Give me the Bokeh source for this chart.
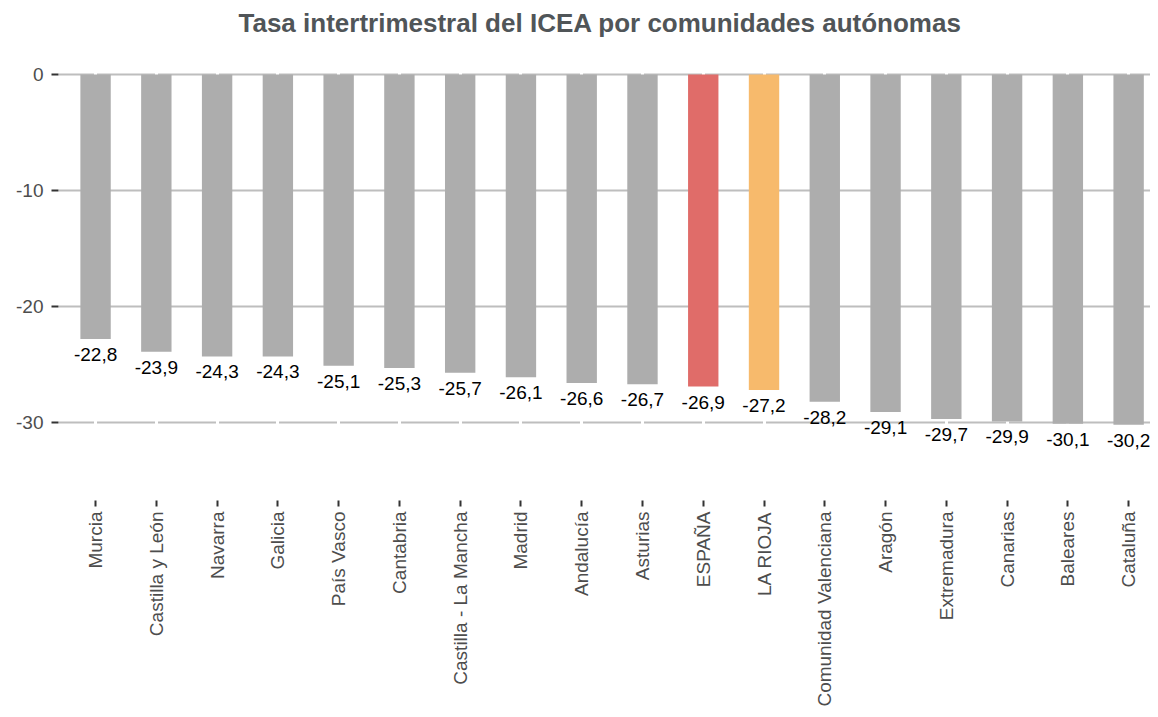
import math
from bokeh.plotting import figure
from bokeh.models import Range1d, FixedTicker, ColumnDataSource, Title
from bokeh.embed import file_html
from bokeh.resources import INLINE

# ---- data ----
categories = ["Murcia", "Castilla y León", "Navarra", "Galicia", "País Vasco",
              "Cantabria", "Castilla - La Mancha", "Madrid", "Andalucía", "Asturias",
              "ESPAÑA", "LA RIOJA", "Comunidad Valenciana", "Aragón", "Extremadura",
              "Canarias", "Baleares", "Cataluña"]
values = [-22.8, -23.9, -24.3, -24.3, -25.1, -25.3, -25.7, -26.1, -26.6, -26.7,
          -26.9, -27.2, -28.2, -29.1, -29.7, -29.9, -30.1, -30.2]
y_ticks = [0, -10, -20, -30]
y_tick_labels = ["0", "-10", "-20", "-30"]
highlight = {"ESPAÑA": "#E06C69", "LA RIOJA": "#F7BA6C"}
base_color = "#ADADAD"

FONT = "Liberation Sans"

idx = list(range(len(categories)))
colors = [highlight.get(c, base_color) for c in categories]
labels = [f"{v:.1f}".replace(".", ",") for v in values]
zeros = [0] * len(values)

src = ColumnDataSource(dict(x=idx, top=zeros, bottom=values, color=colors,
                            label=labels, cat=categories))

p = figure(width=1150, height=709, output_backend="svg", toolbar_location=None,
           x_range=Range1d(-0.61, 17.36), y_range=Range1d(-36.72, 2.5),
           min_border_left=58, min_border_right=0, min_border_bottom=0,
           min_border_top=45)
p.outline_line_color = None
p.background_fill_color = "white"

p.title = Title(text="Tasa intertrimestral del ICEA por comunidades autónomas",
                align="left", vertical_align="middle", text_font=FONT,
                text_font_size="26px", text_font_style="bold",
                text_color="#505558", offset=180, standoff=13)

p.vbar(x="x", top="top", bottom="bottom", width=0.5, color="color", source=src,
       line_color=None)
p.text(x="x", y="bottom", text="label", source=src, text_align="center",
       text_baseline="top", y_offset=9, text_font_size="19px",
       text_color="black", text_font={"value": FONT})

# axes
p.xaxis.ticker = FixedTicker(ticks=idx)
p.xaxis.major_label_overrides = {i: c for i, c in zip(idx, categories)}
p.xaxis.major_label_orientation = math.pi / 2
p.xaxis.axis_line_color = None
p.xaxis.major_tick_in = 0
p.xaxis.major_tick_out = 6
p.xaxis.major_tick_line_color = "#333333"
p.xaxis.major_tick_line_width = 2
p.xaxis.minor_tick_line_color = None
p.xaxis.major_label_standoff = 5
p.xaxis.major_label_text_font = FONT
p.xaxis.major_label_text_font_size = "19px"
p.xaxis.major_label_text_color = "#4D4D4D"

p.yaxis.ticker = FixedTicker(ticks=y_ticks)
p.yaxis.major_label_overrides = {t: s for t, s in zip(y_ticks, y_tick_labels)}
p.yaxis.axis_line_color = None
p.yaxis.major_tick_in = 0
p.yaxis.major_tick_out = 7
p.yaxis.major_tick_line_color = "#333333"
p.yaxis.major_tick_line_width = 2
p.yaxis.minor_tick_line_color = None
p.yaxis.major_label_standoff = 8
p.yaxis.major_label_text_font = FONT
p.yaxis.major_label_text_font_size = "19px"
p.yaxis.major_label_text_color = "#4D4D4D"

# grids
p.ygrid.ticker = FixedTicker(ticks=y_ticks)
p.ygrid.grid_line_color = "#BEBEBE"
p.ygrid.grid_line_width = 2
p.ygrid.level = "image"
p.xgrid.ticker = FixedTicker(ticks=idx)
p.xgrid.grid_line_color = "white"
p.xgrid.grid_line_width = 3

open("out.html", "w").write(file_html(p, INLINE))
